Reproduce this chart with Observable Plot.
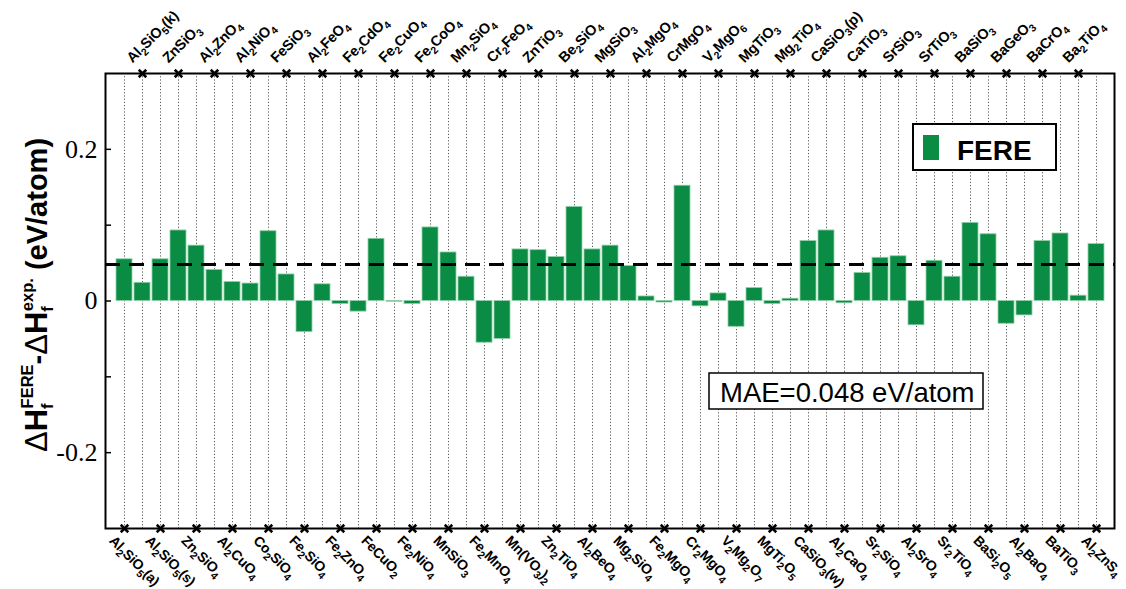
<!DOCTYPE html>
<html><head><meta charset="utf-8">
<script src="https://cdn.jsdelivr.net/npm/d3@7"></script>
<script src="https://cdn.jsdelivr.net/npm/@observablehq/plot@0.6"></script>
<style>html,body{margin:0;padding:0;background:#fff}#chart svg{display:block}</style>
</head><body><div id="chart"></div>
<script>
// Compounds in plotted order (odd positions labelled below, even positions labelled above)
const compounds = [
  "Al_2SiO_5(a)","Al_2SiO_5(k)","Al_2SiO_5(s)","ZnSiO_3","Zn_2SiO_4","Al_2ZnO_4","Al_2CuO_4","Al_2NiO_4",
  "Co_2SiO_4","FeSiO_3","Fe_2SiO_4","Al_2FeO_4","Fe_2ZnO_4","Fe_2CdO_4","FeCuO_2","Fe_2CuO_4",
  "Fe_2NiO_4","Fe_2CoO_4","MnSiO_3","Mn_2SiO_4","Fe_2MnO_4","Cr_2FeO_4","Mn(VO_3)_2","ZnTiO_3",
  "Zn_2TiO_4","Be_2SiO_4","Al_2BeO_4","MgSiO_3","Mg_2SiO_4","Al_2MgO_4","Fe_2MgO_4","CrMgO_4",
  "Cr_2MgO_4","V_2MgO_6","V_2Mg_2O_7","MgTiO_3","MgTi_2O_5","Mg_2TiO_4","CaSiO_3(w)","CaSiO_3(p)",
  "Al_2CaO_4","CaTiO_3","Sr_2SiO_4","SrSiO_3","Al_2SrO_4","SrTiO_3","Sr_2TiO_4","BaSiO_3",
  "BaSi_2O_5","BaGeO_3","Al_2BaO_4","BaCrO_4","BaTiO_3","Ba_2TiO_4","Al_2ZnS_4"
];
// ΔHf(FERE) - ΔHf(exp.) in eV/atom
const values = [
  0.055, 0.024, 0.055, 0.093, 0.073, 0.041, 0.025, 0.023,
  0.092, 0.035, -0.041, 0.022, -0.004, -0.014, 0.082, -0.001,
  -0.004, 0.097, 0.064, 0.032, -0.055, -0.050, 0.068, 0.067,
  0.058, 0.124, 0.068, 0.073, 0.046, 0.006, -0.002, 0.152,
  -0.007, 0.010, -0.034, 0.017, -0.004, 0.003, 0.079, 0.093,
  -0.003, 0.037, 0.057, 0.059, -0.032, 0.053, 0.032, 0.103,
  0.088, -0.030, -0.019, 0.079, 0.089, 0.007, 0.075
];
const mae = 0.048;
const seriesName = "FERE";
const yTicks = [-0.2, -0.1, 0, 0.1, 0.2];
const yTickLabels = [-0.2, 0, 0.2];
const yDomain = [-0.3, 0.3];

const data = compounds.map((c, i) => ({compound: c, value: values[i], side: i % 2 === 0 ? "bottom" : "top"}));
const bottomRows = data.filter(d => d.side === "bottom");
const topRows = data.filter(d => d.side === "top");

const green = "#0b8c45";
const sans = "'Liberation Sans', Arial, Helvetica, sans-serif";
const serif = "'Liberation Serif', 'Times New Roman', serif";

const chart = Plot.plot({
  width: 1126, height: 589,
  marginLeft: 105, marginRight: 12, marginTop: 73, marginBottom: 61,
  style: {fontFamily: sans, background: "white", overflow: "visible"},
  x: {domain: compounds, paddingInner: 0.12, paddingOuter: 0.5, axis: null},
  y: {domain: yDomain, axis: null},
  marks: [
    Plot.ruleX(compounds, {x: d => d, stroke: "#5a5a5a", strokeWidth: 1, strokeDasharray: "1.2,2"}),
    Plot.barY(data, {x: "compound", y: "value", fill: green, stroke: "#8fcfa8", strokeWidth: 0.8}),
    Plot.ruleY([mae], {stroke: "black", strokeWidth: 3, strokeDasharray: "15,9"}),
    Plot.frame({stroke: "black", strokeWidth: 2}),
    Plot.axisY(yTicks, {tickSize: 6, insetLeft: 6, tickFormat: () => "", strokeWidth: 1.5, label: null}),
    Plot.axisY(yTickLabels, {tickSize: 0, tickPadding: 8, tickFormat: d => d === 0 ? "0" : d.toFixed(1),
      fontFamily: serif, fontSize: 26, label: null}),
    Plot.dot(topRows, {x: "compound", frameAnchor: "top", symbol: "times", r: 3.5, stroke: "black", strokeWidth: 2.5}),
    Plot.dot(bottomRows, {x: "compound", frameAnchor: "bottom", symbol: "times", r: 3.5, stroke: "black", strokeWidth: 2.5}),
    Plot.text(topRows, {x: "compound", text: "compound", frameAnchor: "top", rotate: -45, textAnchor: "start",
      lineAnchor: "bottom", dx: -10, dy: -10, fontSize: 14.5, fontWeight: "bold", fill: "black"}),
    Plot.text(bottomRows, {x: "compound", text: "compound", frameAnchor: "bottom", rotate: 45, textAnchor: "start",
      lineAnchor: "top", dx: -9, dy: 6, fontSize: 14, fontWeight: "bold", fill: "black"})
  ]
});
document.getElementById("chart").appendChild(chart);

const ns = "http://www.w3.org/2000/svg";
// chemical subscripts
chart.querySelectorAll("text").forEach(el => {
  const s = el.textContent;
  if (!s.includes("_")) return;
  el.textContent = "";
  el.setAttribute("letter-spacing", "-0.3");
  const parts = s.split(/_(\d+)/);
  let shifted = false;
  parts.forEach((p, i) => {
    if (!p) return;
    const t = document.createElementNS(ns, "tspan");
    t.textContent = p;
    if (i % 2 === 1) {
      t.setAttribute("font-size", "10.5");
      if (!shifted) { t.setAttribute("dy", "4"); shifted = true; }
    } else if (shifted) { t.setAttribute("dy", "-4"); shifted = false; }
    el.appendChild(t);
  });
});

const svg = d3.select(chart);
// legend
const lg = svg.append("g").attr("text-anchor", "start");
lg.append("rect").attr("x", 913).attr("y", 124).attr("width", 143).attr("height", 46)
  .attr("fill", "white").attr("stroke", "black").attr("stroke-width", 2);
lg.append("rect").attr("x", 923).attr("y", 135).attr("width", 16).attr("height", 25).attr("fill", green);
lg.append("text").attr("x", 957).attr("y", 160).attr("font-size", 28).attr("font-weight", "bold")
  .attr("font-family", sans).attr("fill", "black").attr("text-anchor", "start").text(seriesName);
// MAE annotation
const ma = svg.append("g").attr("text-anchor", "start");
ma.append("rect").attr("x", 709).attr("y", 373).attr("width", 274).attr("height", 36)
  .attr("fill", "white").attr("stroke", "black").attr("stroke-width", 1.5);
ma.append("text").attr("x", 720).attr("y", 402).attr("font-size", 27.5).attr("text-anchor", "start")
  .attr("font-family", sans).attr("fill", "black").text(`MAE=${mae.toFixed(3)} eV/atom`);
// y label
const yl = svg.append("text").attr("transform", "translate(47,295) rotate(-90)")
  .attr("text-anchor", "middle").attr("font-family", sans).attr("fill", "black").attr("font-size", 29);
const parts = [
  {t: "Δ", w: "normal", fs: 31}, {t: "H", w: "bold", fs: 31},
  {t: "f", w: "bold", fs: 16.5, dy: 6}, {t: "FERE", w: "bold", fs: 16.5, dy: -20, dx: -5},
  {t: "-", w: "bold", dy: 14}, {t: "Δ", w: "normal", fs: 31}, {t: "H", w: "bold", fs: 31},
  {t: "f", w: "bold", fs: 16.5, dy: 6}, {t: "exp.", w: "bold", fs: 16.5, dy: -20, dx: -5},
  {t: " (eV/atom)", w: "bold", dy: 14}
];
parts.forEach(p => {
  const t = yl.append("tspan").attr("font-weight", p.w).text(p.t);
  if (p.fs) t.attr("font-size", p.fs);
  if (p.dy) t.attr("dy", p.dy);
  if (p.dx) t.attr("dx", p.dx);
});
</script>
</body></html>
